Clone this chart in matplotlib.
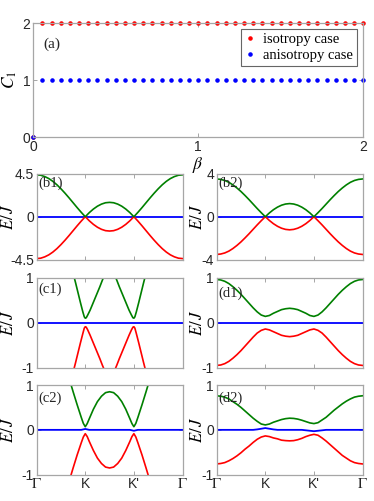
import numpy as np
import matplotlib
matplotlib.use("Agg")
import matplotlib.pyplot as plt

plt.rcParams['mathtext.fontset'] = 'stix'
plt.rcParams['axes.unicode_minus'] = False
plt.rcParams['font.family'] = ['Liberation Sans', 'DejaVu Sans']

# ---- panel (a): Chern number vs beta ----
beta = np.linspace(0, 2, 37)
c_iso = [0] + [2] * 36
c_aniso = [0] + [1] * 36

# ---- band structures along Gamma-K-K'-Gamma (Gamma=0, K=1, K'=2, Gamma=3) ----
k_path = np.linspace(0, 3, 37)
k_ticks = [0, 1, 2, 3]
k_labels = [r'$\Gamma$', 'K', "K'", r'$\Gamma$']

b1_upper = [4.38, 4.34, 4.20, 3.99, 3.70, 3.34, 2.92, 2.46, 1.97, 1.46, 0.95, 0.46, 0.00,
            0.43, 0.80, 1.10, 1.32, 1.46, 1.50, 1.46, 1.32, 1.10, 0.80, 0.43, 0.00,
            0.46, 0.95, 1.46, 1.97, 2.46, 2.92, 3.34, 3.70, 3.99, 4.20, 4.34, 4.38]
b1_lower = [-4.38, -4.34, -4.20, -3.99, -3.70, -3.34, -2.92, -2.46, -1.97, -1.46, -0.95, -0.46, 0.00,
            -0.43, -0.80, -1.10, -1.32, -1.46, -1.50, -1.46, -1.32, -1.10, -0.80, -0.43, 0.00,
            -0.46, -0.95, -1.46, -1.97, -2.46, -2.92, -3.34, -3.70, -3.99, -4.20, -4.34, -4.38]

b2_upper = [3.51, 3.47, 3.37, 3.20, 2.96, 2.67, 2.34, 1.97, 1.58, 1.17, 0.76, 0.37, 0.00,
            0.35, 0.65, 0.89, 1.07, 1.18, 1.22, 1.18, 1.07, 0.89, 0.65, 0.35, 0.00,
            0.37, 0.76, 1.17, 1.58, 1.97, 2.34, 2.67, 2.96, 3.20, 3.37, 3.47, 3.51]
b2_lower = [-3.51, -3.47, -3.37, -3.20, -2.96, -2.67, -2.34, -1.97, -1.58, -1.17, -0.76, -0.37, 0.00,
            -0.35, -0.65, -0.89, -1.07, -1.18, -1.22, -1.18, -1.07, -0.89, -0.65, -0.35, 0.00,
            -0.37, -0.76, -1.17, -1.58, -1.97, -2.34, -2.67, -2.96, -3.20, -3.37, -3.47, -3.51]

flat_band = [0.0] * 37

c1_k = [0.0, 0.5, 0.7, 0.75, 0.8, 0.85, 0.9, 0.95, 0.98, 1.0,
        1.02, 1.05, 1.1, 1.15, 1.2, 1.25, 1.3, 1.35, 1.4, 1.45, 1.5,
        1.55, 1.6, 1.65, 1.7, 1.75, 1.8, 1.85, 1.9, 1.95, 1.98,
        2.0, 2.02, 2.05, 2.1, 2.15, 2.2, 2.25, 2.3, 2.5, 3.0]
c1_upper = [3.0, 2.2, 1.32, 1.10, 0.89, 0.67, 0.45, 0.24, 0.13, 0.10,
            0.11, 0.17, 0.28, 0.41, 0.54, 0.67, 0.80, 0.94, 1.07, 1.20, 1.33,
            1.20, 1.07, 0.94, 0.80, 0.67, 0.54, 0.41, 0.28, 0.17, 0.11,
            0.10, 0.13, 0.24, 0.45, 0.67, 0.89, 1.10, 1.32, 2.2, 3.0]
c1_lower = [-3.0, -2.2, -1.32, -1.10, -0.89, -0.67, -0.45, -0.24, -0.12, -0.09,
            -0.10, -0.16, -0.28, -0.41, -0.54, -0.67, -0.80, -0.94, -1.07, -1.20, -1.33,
            -1.20, -1.07, -0.94, -0.80, -0.67, -0.54, -0.41, -0.28, -0.16, -0.10,
            -0.09, -0.12, -0.24, -0.45, -0.67, -0.89, -1.10, -1.32, -2.2, -3.0]
c1_flat = [0.0] * 41

c2_k = [0.0, 0.25, 0.5, 0.583, 0.667, 0.75, 0.833, 0.917, 0.96, 1.0,
        1.04, 1.083, 1.167, 1.25, 1.333, 1.417, 1.5,
        1.583, 1.667, 1.75, 1.833, 1.917, 1.96, 2.0,
        2.04, 2.083, 2.167, 2.25, 2.333, 2.417, 2.5, 2.75, 3.0]
c2_upper = [2.55, 2.32, 1.70, 1.43, 1.15, 0.85, 0.56, 0.28, 0.145, 0.07,
            0.14, 0.25, 0.46, 0.63, 0.75, 0.83, 0.85,
            0.83, 0.75, 0.63, 0.46, 0.25, 0.14, 0.07,
            0.145, 0.28, 0.56, 0.85, 1.15, 1.43, 1.70, 2.32, 2.55]
c2_lower = [-2.55, -2.32, -1.70, -1.43, -1.15, -0.85, -0.56, -0.29, -0.16, -0.085,
            -0.15, -0.26, -0.46, -0.63, -0.75, -0.83, -0.85,
            -0.83, -0.75, -0.63, -0.46, -0.26, -0.15, -0.085,
            -0.16, -0.29, -0.56, -0.85, -1.15, -1.43, -1.70, -2.32, -2.55]
c2_flat = [0.0, 0.0, 0.0, 0.0, 0.0, 0.0, 0.0, 0.0, 0.01, 0.02,
           0.01, 0.0, 0.0, 0.0, 0.0, 0.0, 0.0,
           0.0, 0.0, 0.0, 0.0, 0.0, -0.01, -0.02,
           -0.01, 0.0, 0.0, 0.0, 0.0, 0.0, 0.0, 0.0, 0.0]

d1_upper = [0.96, 0.95, 0.92, 0.87, 0.80, 0.72, 0.63, 0.53, 0.43, 0.33, 0.24, 0.17, 0.14,
            0.16, 0.21, 0.25, 0.29, 0.31, 0.32, 0.31, 0.29, 0.25, 0.21, 0.16, 0.14,
            0.17, 0.24, 0.33, 0.43, 0.53, 0.63, 0.72, 0.80, 0.87, 0.92, 0.95, 0.96]
d1_lower = [-0.95, -0.94, -0.91, -0.86, -0.79, -0.71, -0.62, -0.52, -0.42, -0.32, -0.23, -0.17, -0.14,
            -0.16, -0.20, -0.24, -0.28, -0.30, -0.31, -0.30, -0.28, -0.24, -0.20, -0.16, -0.14,
            -0.17, -0.23, -0.32, -0.42, -0.52, -0.62, -0.71, -0.79, -0.86, -0.91, -0.94, -0.95]

d2_upper = [0.76, 0.75, 0.73, 0.69, 0.63, 0.57, 0.50, 0.42, 0.34, 0.26, 0.19, 0.13, 0.11,
            0.13, 0.17, 0.20, 0.23, 0.25, 0.26, 0.255, 0.24, 0.215, 0.185, 0.155, 0.14,
            0.16, 0.22, 0.28, 0.36, 0.44, 0.51, 0.58, 0.64, 0.69, 0.73, 0.75, 0.76]
d2_lower = [-0.76, -0.75, -0.73, -0.69, -0.64, -0.58, -0.51, -0.43, -0.36, -0.28, -0.21, -0.16, -0.135,
            -0.15, -0.18, -0.20, -0.23, -0.24, -0.245, -0.24, -0.22, -0.19, -0.15, -0.12, -0.10,
            -0.12, -0.18, -0.25, -0.33, -0.41, -0.49, -0.57, -0.63, -0.69, -0.73, -0.75, -0.76]
d2_flat = [0.0, 0.0, 0.0, 0.0, 0.0, 0.0, 0.0, 0.0, 0.0, 0.0, 0.01, 0.025, 0.04,
           0.025, 0.01, 0.0, 0.0, 0.0, 0.0, 0.0, 0.0, 0.0, -0.01, -0.02, -0.03,
           -0.02, -0.01, 0.0, 0.0, 0.0, 0.0, 0.0, 0.0, 0.0, 0.0, 0.0, 0.0]

GREEN = '#008000'
RED = '#ff0000'
BLUE = '#0000ff'
FRAME = '#a6a6a6'
TEXT = '#262626'
SERIF = 'Liberation Serif'
TICK_SIZE = 10


def style_axes(ax):
    for sp in ax.spines.values():
        sp.set_color(FRAME)
        sp.set_linewidth(0.9)
    ax.tick_params(direction='in', length=3, width=0.7, color=FRAME,
                   labelcolor=TEXT, labelsize=TICK_SIZE, top=True, right=True, pad=2)


fig = plt.figure(figsize=(3.74, 5.01), dpi=100)

# panel (a)
ax = fig.add_axes([0.089, 0.7265, 0.882, 0.2275])
ax.plot(beta, c_iso, '.', color=RED, ms=4.5, clip_on=False, label='isotropy case')
ax.plot(beta, c_aniso, '.', color=BLUE, ms=4.5, clip_on=False, label='anisotropy case')
ax.set_xlim(0, 2)
ax.set_ylim(0, 2)
ax.set_xticks([0, 1, 2])
ax.set_yticks([0, 1, 2])
style_axes(ax)
ax.set_xlabel(r'$\beta$', fontsize=12.5, labelpad=1)
ax.set_ylabel(r'$C_1$', fontsize=12.5)
ax.yaxis.set_label_coords(-0.042, 0.5)
ax.text(0.03, 0.81, '(a)', transform=ax.transAxes, family=SERIF, fontsize=11,
        va='center', color=TEXT)
leg = ax.legend(loc='upper right', bbox_to_anchor=(0.981, 0.947), borderaxespad=0,
                numpoints=1, handlelength=0.8, handletextpad=0.5, fancybox=False,
                prop={'family': SERIF, 'size': 10.5}, borderpad=0.25, labelspacing=0.2)
leg.get_frame().set_edgecolor('#404040')
leg.get_frame().set_linewidth(0.8)

# lower band panels
left_x, right_x = 0.098, 0.5794
col_w = 0.390
rows = [(0.4816, 0.1717), (0.2661, 0.1796), (0.0525, 0.179)]

panels = [
    # (row, col, label, k, upper, lower, flat, ylim, yticks, yticklabels, label_y)
    (0, 0, '(b1)', k_path, b1_upper, b1_lower, flat_band, 4.5, [-4.5, 0, 4.5], ['-4.5', '0', '4.5'], 0.89),
    (0, 1, '(b2)', k_path, b2_upper, b2_lower, flat_band, 4, [-4, 0, 4], ['-4', '0', '4'], 0.89),
    (1, 0, '(c1)', c1_k, c1_upper, c1_lower, c1_flat, 1, [-1, 0, 1], ['-1', '0', '1'], 0.87),
    (1, 1, '(d1)', k_path, d1_upper, d1_lower, flat_band, 1, [-1, 0, 1], ['-1', '0', '1'], 0.83),
    (2, 0, '(c2)', c2_k, c2_upper, c2_lower, c2_flat, 1, [-1, 0, 1], ['-1', '0', '1'], 0.857),
    (2, 1, '(d2)', k_path, d2_upper, d2_lower, d2_flat, 1, [-1, 0, 1], ['-1', '0', '1'], 0.85),
]

for row, col, lab, kk, up, lo, fl, ymax, yt, ytl, ly in panels:
    bottom, height = rows[row]
    x0 = left_x if col == 0 else right_x
    ax = fig.add_axes([x0, bottom, col_w, height])
    ax.plot(kk, fl, color=BLUE, lw=1.3)
    ax.plot(kk, lo, color=RED, lw=1.2)
    ax.plot(kk, up, color=GREEN, lw=1.2)
    ax.set_xlim(0, 3)
    ax.set_ylim(-ymax, ymax)
    ax.set_xticks(k_ticks)
    ax.set_yticks(yt)
    ax.set_yticklabels(ytl)
    style_axes(ax)
    if row == 2:
        ax.set_xticklabels(k_labels)
        for t in ax.get_xticklabels():
            t.set_fontsize(11 if 'Gamma' in t.get_text() else TICK_SIZE)
    else:
        ax.set_xticklabels([])
    ax.set_ylabel(r'$E/\,J$', fontsize=12)
    ax.yaxis.set_label_coords(-0.14 if col == 0 else -0.082, 0.5)
    ax.text(0.01, ly, lab, transform=ax.transAxes, family=SERIF, fontsize=10.5,
            va='center', color=TEXT)

fig.savefig('out.png', dpi=100)
